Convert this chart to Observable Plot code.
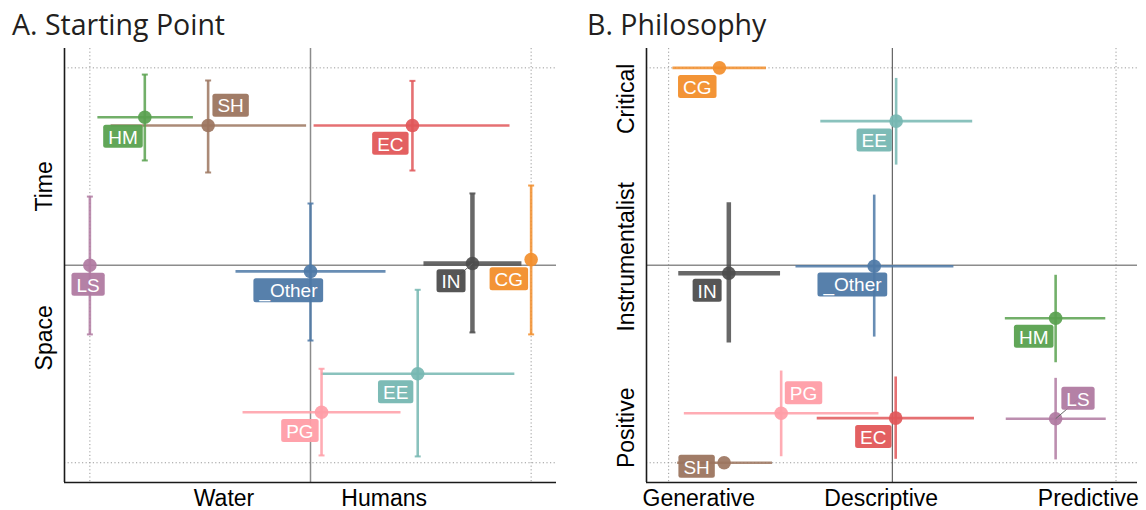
<!DOCTYPE html>
<html>
<head>
<meta charset="utf-8">
<script src="https://cdn.jsdelivr.net/npm/d3@7"></script>
<script src="https://cdn.jsdelivr.net/npm/@observablehq/plot@0.6"></script>
<style>
  html, body { margin: 0; padding: 0; background: #fff; }
  #chart { position: relative; width: 1146px; height: 510px; overflow: hidden; }
  .title { position: absolute; top: 10px; font-family: "Open Sans", sans-serif; font-size: 28.5px; line-height: 1; color: #231f20; white-space: nowrap; }
  .panel { position: absolute; top: 44px; }
</style>
</head>
<body>
<div id="chart">
  <div class="title" style="left:12px">A. Starting Point</div>
  <div class="title" style="left:587px">B. Philosophy</div>
  <div class="panel" id="pa" style="left:0px"></div>
  <div class="panel" id="pb" style="left:570px"></div>
</div>
<script>
// ---------- Panel A: Starting Point (Water ↔ Humans, Space ↔ Time) ----------
const codesA   = ["HM", "SH", "EC", "LS", "_Other", "IN", "CG", "EE", "PG"];
const xA       = [-0.751, -0.464, 0.462, -1.000, 0.000, 0.734, 1.000, 0.486, 0.050];
const xMinA    = [-0.966, -0.906, 0.014, -1.000, -0.340, 0.512, 1.000, 0.048, -0.308];
const xMaxA    = [-0.533, -0.020, 0.902, -1.000, 0.340, 0.956, 1.000, 0.924, 0.408];
const yA       = [0.750, 0.708, 0.708, 0.000, -0.031, 0.009, 0.029, -0.549, -0.744];
const yMinA    = [0.531, 0.470, 0.480, -0.350, -0.381, -0.340, -0.350, -0.968, -0.963];
const yMaxA    = [0.966, 0.936, 0.934, 0.348, 0.313, 0.364, 0.404, -0.124, -0.524];
const labelXA  = [-0.850, -0.362, 0.362, -1.008, -0.100, 0.637, 0.899, 0.386, -0.048];
const labelYA  = [0.647, 0.805, 0.612, -0.102, -0.130, -0.085, -0.074, -0.647, -0.843];
const xTicksA      = [-0.392, 0.334];
const xTickLabelsA = ["Water", "Humans"];
const yTicksA      = [0.40, -0.367];
const yTickLabelsA = ["Time", "Space"];

// ---------- Panel B: Philosophy (Generative ↔ Predictive, Positive ↔ Critical) ----------
const codesB   = ["CG", "EE", "IN", "_Other", "HM", "PG", "EC", "LS", "SH"];
const xB       = [-0.773, 0.017, -0.731, -0.081, 0.730, -0.497, 0.015, 0.730, -0.752];
const xMinB    = [-0.983, -0.322, -0.957, -0.433, 0.503, -0.932, -0.338, 0.507, -0.962];
const xMaxB    = [-0.565, 0.357, -0.502, 0.273, 0.952, -0.062, 0.365, 0.954, -0.538];
const yB       = [1.000, 0.730, -0.040, -0.005, -0.268, -0.749, -0.774, -0.777, -1.000];
const yMinB    = [1.000, 0.510, -0.391, -0.361, -0.491, -0.967, -0.980, -0.983, -1.000];
const yMaxB    = [1.000, 0.949, 0.319, 0.358, -0.048, -0.533, -0.563, -0.570, -1.000];
const labelXB  = [-0.872, -0.081, -0.828, -0.178, 0.632, -0.397, -0.085, 0.830, -0.875];
const labelYB  = [0.900, 0.629, -0.133, -0.101, -0.366, -0.652, -0.873, -0.680, -1.024];
const xTicksB      = [-0.865, -0.050, 0.876];
const xTickLabelsB = ["Generative", "Descriptive", "Predictive"];
const yTicksB      = [0.843, 0.043, -0.823];
const yTickLabelsB = ["Critical", "Instrumentalist", "Positive"];

const guides = [-1, 1];

const colorOf = {
  HM: "#59A14F", SH: "#9C755F", EC: "#E15759", LS: "#B07AA1", _Other: "#4E79A7",
  IN: "#4D4D4D", CG: "#F28E2B", EE: "#76B7B2", PG: "#FF9DA7"
};

function makeRows(codes, x, x1, x2, y, y1, y2, lx, ly) {
  return codes.map((code, i) => ({
    code, x: x[i], x1: x1[i], x2: x2[i], y: y[i], y1: y1[i], y2: y2[i],
    lx: lx[i], ly: ly[i], color: colorOf[code]
  }));
}

const rowsA = makeRows(codesA, xA, xMinA, xMaxA, yA, yMinA, yMaxA, labelXA, labelYA);
const rowsB = makeRows(codesB, xB, xMinB, xMaxB, yB, yMinB, yMaxB, labelXB, labelYB);

const capSymbol = {
  draw(context, size) {
    const w = Math.sqrt(size / Math.PI);
    context.moveTo(-w, 0);
    context.lineTo(w, 0);
  }
};

function panel(cfg) {
  const rows = cfg.rows;
  const barW = d => d.code === "IN" ? 4.5 : 2.6;
  const capRows = cfg.caps
    ? rows.filter(d => d.y1 !== d.y2).flatMap(d => [{...d, cy: d.y1}, {...d, cy: d.y2}])
    : [];
  const segRows = rows.filter(d => cfg.segCodes.includes(d.code));
  return Plot.plot({
    width: cfg.width, height: 466,
    marginLeft: cfg.marginLeft, marginRight: cfg.marginRight, marginTop: 4, marginBottom: 28,
    x: {domain: cfg.xDomain},
    y: {domain: cfg.yDomain, axis: null},
    color: {type: "identity"},
    style: {fontFamily: "Liberation Sans, Arial, sans-serif", fontSize: "23px", color: "#000", background: "transparent", overflow: "visible"},
    marks: [
      Plot.ruleX(guides, {stroke: "#9a9a9a", strokeWidth: 1, strokeDasharray: "1.2,2.4"}),
      Plot.ruleY(guides, {stroke: "#9a9a9a", strokeWidth: 1, strokeDasharray: "1.2,2.4"}),
      Plot.ruleX([0], {stroke: cfg.zeroXStroke, strokeWidth: cfg.zeroXWidth}),
      Plot.ruleY([0], {stroke: "#8c8c8c", strokeWidth: 1.5}),
      Plot.ruleX([cfg.xDomain[0]], {stroke: "#1a1a1a", strokeWidth: 1.6}),
      Plot.ruleY([cfg.yDomain[0]], {stroke: "#1a1a1a", strokeWidth: 1.6}),
      Plot.link(rows, {x1: "x1", x2: "x2", y1: "y", y2: "y", stroke: "color", strokeWidth: barW, strokeOpacity: 0.85}),
      Plot.link(rows, {x1: "x", x2: "x", y1: "y1", y2: "y2", stroke: "color", strokeWidth: barW, strokeOpacity: 0.85}),
      Plot.dot(capRows, {x: "x", y: "cy", r: 3, symbol: capSymbol, stroke: "color", fill: "none", strokeWidth: 2, strokeOpacity: 0.85}),
      Plot.dot(rows, {x: "x", y: "y", r: 6.8, fill: "color", fillOpacity: 0.92, stroke: "none"}),
      Plot.link(segRows, {x1: "x", y1: "y", x2: "lx", y2: "ly", stroke: "#666", strokeWidth: 1}),
      Plot.text(rows, {x: "lx", y: "ly", text: "code", fill: "white", fontSize: 19, textAnchor: "middle", lineAnchor: "middle"}),
      Plot.axisX(cfg.xTicks, {tickFormat: (d, i) => cfg.xTickLabels[i], tickSize: 0, tickPadding: 7, fontSize: 23, label: null}),
      Plot.text(cfg.yTicks, {y: d => d, text: (d, i) => cfg.yTickLabels[i], frameAnchor: "left", rotate: -90, dx: -20, textAnchor: "middle", lineAnchor: "middle", fontSize: 23, fill: "#000"})
    ]
  });
}

function boxLabels(svg, rows) {
  const ns = "http://www.w3.org/2000/svg";
  const groups = svg.querySelectorAll('g[aria-label="text"]');
  const g = groups[0];
  if (!g) return;
  const texts = Array.from(g.querySelectorAll("text"));
  texts.forEach((t, i) => {
    const bb = t.getBBox();
    const r = document.createElementNS(ns, "rect");
    r.setAttribute("x", bb.x - 5);
    r.setAttribute("y", bb.y - 1.8);
    r.setAttribute("width", bb.width + 10);
    r.setAttribute("height", bb.height + 2.0);
    r.setAttribute("rx", 2.5);
    r.setAttribute("fill", rows[i].color);
    r.setAttribute("fill-opacity", 0.95);
    const tr = t.getAttribute("transform");
    if (tr) r.setAttribute("transform", tr);
    g.insertBefore(r, t);
  });
}

const svgA = panel({
  rows: rowsA, width: 570, marginLeft: 64, marginRight: 14,
  xDomain: [-1.115, 1.115], yDomain: [-1.1, 1.098],
  xTicks: xTicksA, xTickLabels: xTickLabelsA, yTicks: yTicksA, yTickLabels: yTickLabelsA,
  caps: true, segCodes: ["IN"], zeroXStroke: "#8c8c8c", zeroXWidth: 1.5
});
const svgB = panel({
  rows: rowsB, width: 576, marginLeft: 76, marginRight: 9,
  xDomain: [-1.099, 1.096], yDomain: [-1.1, 1.098],
  xTicks: xTicksB, xTickLabels: xTickLabelsB, yTicks: yTicksB, yTickLabels: yTickLabelsB,
  caps: false, segCodes: ["LS"], zeroXStroke: "#555", zeroXWidth: 1.1
});
document.getElementById("pa").appendChild(svgA);
document.getElementById("pb").appendChild(svgB);
boxLabels(svgA, rowsA);
boxLabels(svgB, rowsB);
</script>
</body>
</html>
